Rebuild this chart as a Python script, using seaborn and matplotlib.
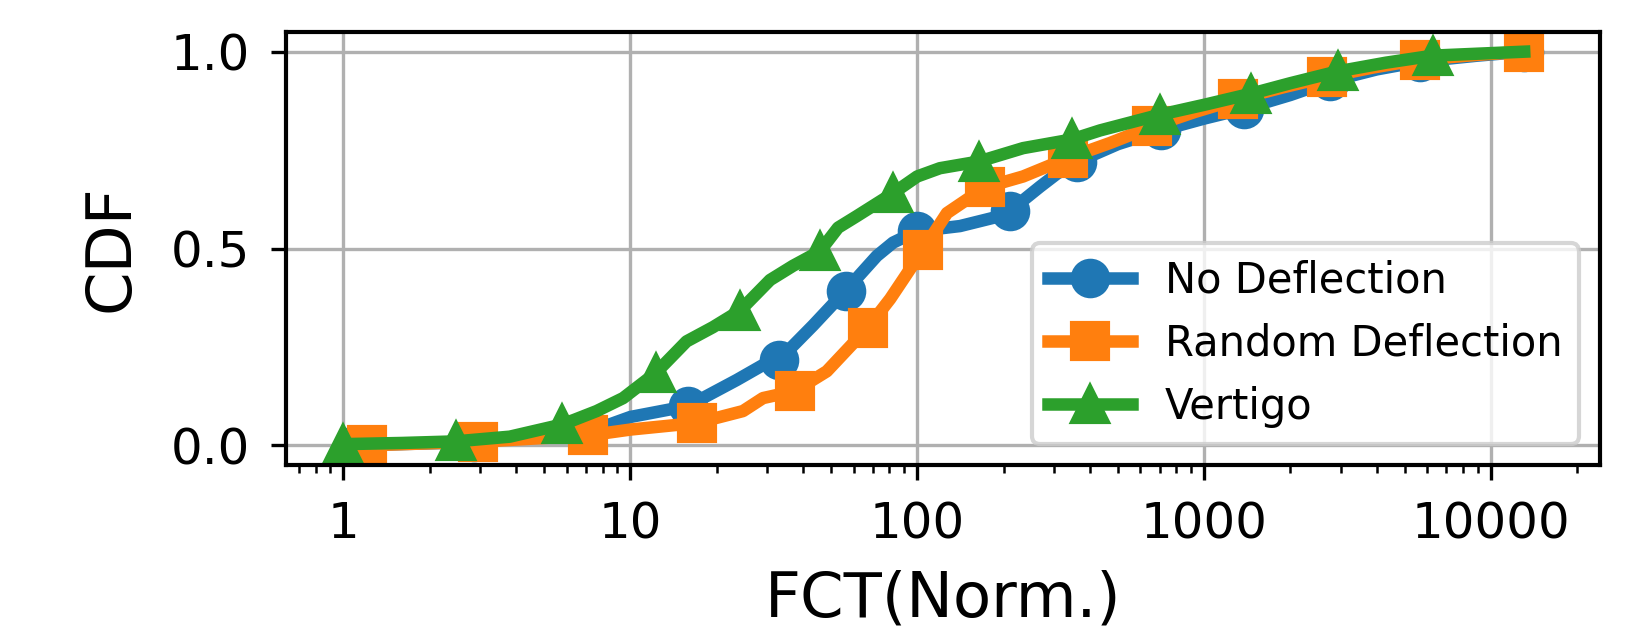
import matplotlib
matplotlib.use("Agg")
import matplotlib.pyplot as plt
import matplotlib.ticker as mticker
import seaborn as sns
import pandas as pd

# ---- data ----
no_defl_x = [1.1, 2.85, 7.1, 10.0, 15.9, 23.5, 29.0, 32.9, 43.4, 56.3, 72.3, 82.4, 99.7,
             141, 194, 211, 268, 307, 361, 500, 707, 1000, 1380, 2000, 2750, 4000, 5660, 9000, 13060]
no_defl_y = [0.0, 0.008, 0.033, 0.072, 0.10, 0.166, 0.204, 0.216, 0.305, 0.393, 0.481, 0.515, 0.544,
             0.557, 0.582, 0.596, 0.657, 0.69, 0.72, 0.765, 0.80, 0.83, 0.855, 0.89, 0.925, 0.955, 0.975, 0.99, 1.0]
no_defl_marks = [0, 1, 2, 4, 7, 9, 12, 15, 18, 20, 22, 24, 26, 28]

rand_defl_x = [1.21, 2.94, 7.12, 10.0, 17.1, 24.7, 29.0, 37.5, 48.4, 67.3, 80.5, 104.6, 127,
               172, 234, 336, 470, 659, 930, 1315, 1900, 2680, 3900, 5660, 9000, 13060]
rand_defl_y = [0.0, 0.009, 0.025, 0.04, 0.057, 0.087, 0.12, 0.138, 0.188, 0.299, 0.372, 0.496, 0.59,
               0.655, 0.683, 0.73, 0.768, 0.81, 0.847, 0.88, 0.91, 0.936, 0.96, 0.98, 0.992, 1.0]
rand_defl_marks = [0, 1, 2, 4, 7, 9, 11, 13, 15, 17, 19, 21, 23, 25]

vertigo_x = [1.0, 1.6, 2.46, 3.8, 5.8, 7.63, 9.44, 12.27, 15.7, 19.4, 24.1, 30.7, 36.9, 45.8, 53, 61.5,
             82.2, 100, 120, 164, 234, 346, 434, 703, 1000, 1454, 2000, 2926, 4300, 6290, 13060]
vertigo_y = [0.003, 0.006, 0.01, 0.022, 0.053, 0.087, 0.12, 0.184, 0.264, 0.30, 0.342, 0.42, 0.456, 0.493,
             0.553, 0.582, 0.64, 0.683, 0.704, 0.721, 0.755, 0.777, 0.80, 0.84, 0.865, 0.893, 0.92, 0.95,
             0.972, 0.99, 1.0]
vertigo_marks = [0, 2, 4, 7, 10, 13, 16, 19, 21, 23, 25, 27, 29]

x_ticks = [1, 10, 100, 1000, 10000]
x_tick_labels = ["1", "10", "100", "1000", "10000"]
y_ticks = [0.0, 0.5, 1.0]
y_tick_labels = ["0.0", "0.5", "1.0"]

series = [
    ("No Deflection", no_defl_x, no_defl_y, no_defl_marks, "o", "#1f77b4"),
    ("Random Deflection", rand_defl_x, rand_defl_y, rand_defl_marks, "s", "#ff7f0e"),
    ("Vertigo", vertigo_x, vertigo_y, vertigo_marks, "^", "#2ca02c"),
]

fig = plt.figure(figsize=(1652 / 300, 628 / 300), dpi=300)
ax = fig.add_axes([285.5 / 1652, 1 - 465 / 628, (1600 - 285.5) / 1652, (465 - 32) / 628])

for name, xs, ys, marks, mk, col in series:
    df = pd.DataFrame({"x": xs, "y": ys})
    sns.lineplot(data=df, x="x", y="y", ax=ax, sort=False, errorbar=None,
                 color=col, linewidth=3.0, marker=mk, markersize=8.5,
                 markeredgecolor=col, markeredgewidth=1.0, markevery=marks,
                 label=name)

ax.set_xscale("log")
ax.set_xlim(0.628, 24000)
ax.set_ylim(-0.05, 1.05)
ax.set_xticks(x_ticks)
ax.set_xticklabels(x_tick_labels)
ax.xaxis.set_minor_formatter(mticker.NullFormatter())
ax.set_yticks(y_ticks)
ax.set_yticklabels(y_tick_labels)
ax.tick_params(axis="x", which="major", labelsize=12, pad=5)
ax.tick_params(axis="y", which="major", labelsize=12, pad=5)
ax.grid(True, which="major", color="#b0b0b0", linewidth=0.8)
ax.set_axisbelow(True)
for sp in ax.spines.values():
    sp.set_linewidth(1.0)
    sp.set_color("black")

ax.set_xlabel("FCT(Norm.)", fontsize=15, labelpad=5)
ax.set_ylabel("CDF", fontsize=15, labelpad=7)
ax.legend(loc="lower right", fontsize=10)

fig.savefig("out.png", dpi=300)
